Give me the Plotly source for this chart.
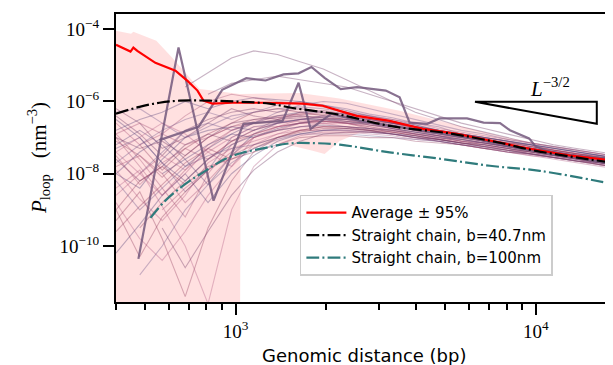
import numpy as np
import plotly.graph_objects as go

# ---------------- data ----------------
# Average loop probability (red)
avg_x = [400, 447, 457, 471, 541, 631, 692, 747, 782, 838, 977, 1259, 1672, 1950, 2222, 2531,
         3261, 4201, 5458, 7031, 9550, 13280, 18060]
avg_y = [3.7e-5, 2.4e-5, 3.1e-5, 2.5e-5, 1.17e-5, 7.1e-6, 3.7e-6, 2.0e-6, 1.05e-6, 8.7e-7, 9.2e-7,
         9.2e-7, 8.7e-7, 7.6e-7, 5.5e-7, 4.0e-7, 2.9e-7, 1.75e-7, 1.28e-7, 8.2e-8, 4.9e-8, 3.1e-8, 2.3e-8]

# 95% band
band_up_x = [400, 449, 457, 545, 617, 759, 838, 1031, 1634, 2222, 3521, 5167, 7585, 11110, 18060]
band_up_y = [9.1e-5, 7.5e-5, 8.5e-5, 4.8e-5, 1.6e-5, 2.2e-6, 2.0e-6, 1.6e-6, 1.7e-6, 1.2e-6,
             5.5e-7, 2.4e-7, 1.1e-7, 5.9e-8, 3.2e-8]
band_lo_x = [400, 1035, 1040, 1401, 1806, 1981, 2222, 2588, 3521, 5167, 7585, 11110, 18060]
band_lo_y = [1e-13, 1e-13, 4.3e-8, 7.2e-8, 4.3e-8, 3.5e-8, 8.1e-8, 1.35e-7, 1.3e-7, 8.1e-8,
             5.2e-8, 3.2e-8, 1.7e-8]

# Straight chain b=40.7nm (black)
sc40_x = [400, 479, 558, 651, 819, 1031, 1298, 1550, 2222, 3261, 5167, 7585, 10000, 18060]
sc40_y = [4.6e-7, 7.1e-7, 9.2e-7, 1.05e-6, 1.05e-6, 9.8e-7, 8.7e-7, 6.6e-7, 4.3e-7, 2.1e-7,
          1.3e-7, 7.2e-8, 4.3e-8, 2.0e-8]

# Straight chain b=100nm (teal)
sc100_x = [521, 584, 681, 794, 926, 1055, 1259, 1514, 1848, 2222, 3261, 4786, 7031, 10310, 18060]
sc100_y = [6.0e-10, 1.8e-9, 5.2e-9, 1.2e-8, 2.6e-8, 3.8e-8, 5.2e-8, 6.9e-8, 7.0e-8, 6.4e-8,
           3.9e-8, 2.6e-8, 1.66e-8, 1.2e-8, 5.2e-9]

# highlighted individual curves (thick)
thickA_x = [475, 646, 845, 1063, 1435, 1622, 1778, 2089, 2590, 3521, 4786, 6501, 8845, 12020, 18060]
thickA_y = [4.4e-11, 3.1e-5, 1.8e-9, 2.4e-7, 2.9e-7, 3.3e-6, 1.75e-7, 4.6e-7, 2.9e-7, 1.9e-7,
            1.3e-7, 8.7e-8, 4.9e-8, 3.2e-8, 1.9e-8]
thickB_x = [558, 754, 903, 1086, 1259, 1445, 1622, 1790, 1980, 2240, 2540, 2860, 3165, 3520,
            3800, 4350, 4780, 5900, 6700, 7600, 8200, 9500, 10000, 11000, 13000, 17000]
thickB_y = [8.5e-8, 2.0e-7, 2.1e-6, 4.4e-6, 3.8e-6, 5.6e-6, 6.0e-6, 9.0e-6, 4.5e-6, 2.2e-6,
            2.5e-6, 2.2e-6, 2.0e-6, 1.3e-6, 2.6e-7, 2.4e-7, 3.4e-7, 3.4e-7, 2.6e-7, 2.5e-7,
            1.6e-7, 9.5e-8, 5.6e-8, 4.2e-8, 3.2e-8, 2.7e-8]

# background individual curves (thin), log10 of P on a shared distance grid
grid_x = [400, 480, 570, 680, 810, 970, 1150, 1380, 1640, 1960, 2340, 2790, 3330, 3970, 4740,
          5650, 6740, 8040, 9600, 11450, 13660, 16300, 18000]
thin_log10P = [
    [-6.4, -6.9, -7.5, -6.8, -6.5, -6.3, -6.2, -6.3, -6.2, -6.3, -6.45, -6.5, -6.6, -6.75, -6.85, -6.9, -7.05, -7.15, -7.2, -7.35, -7.45, -7.5, -7.6],
    [-7.0, -7.8, -8.6, -7.9, -7.2, -6.8, -6.6, -6.5, -6.4, -6.45, -6.5, -6.65, -6.7, -6.8, -6.95, -7.0, -7.1, -7.2, -7.3, -7.4, -7.5, -7.55, -7.65],
    [-8.0, -7.4, -7.0, -7.6, -8.3, -7.5, -6.9, -6.6, -6.5, -6.5, -6.6, -6.6, -6.75, -6.85, -6.95, -7.1, -7.15, -7.25, -7.3, -7.45, -7.55, -7.65, -7.7],
    [None, -9.5, -8.8, -8.2, -7.6, -7.1, -6.9, -6.7, -6.6, -6.55, -6.6, -6.75, -6.8, -6.9, -7.0, -7.1, -7.2, -7.3, -7.4, -7.5, -7.6, -7.7, -7.75],
    [-6.3, -6.2, -6.6, -7.0, -6.7, -6.4, -6.3, -6.1, -6.0, -6.1, -6.2, -6.35, -6.45, -6.6, -6.7, -6.9, -7.0, -7.1, -7.2, -7.3, -7.4, -7.5, -7.55],
    [-8.8, -9.8, -10.4, -9.6, -8.6, -7.8, -7.2, -6.9, -6.7, -6.6, -6.7, -6.75, -6.85, -6.95, -7.05, -7.15, -7.25, -7.3, -7.45, -7.55, -7.6, -7.75, -7.8],
    [-7.6, -8.2, -7.8, -7.2, -6.9, -7.1, -6.8, -6.5, -6.3, -6.25, -6.35, -6.45, -6.6, -6.7, -6.85, -6.95, -7.05, -7.2, -7.3, -7.4, -7.5, -7.6, -7.65],
    [None, None, -9.0, -8.4, -7.9, -7.4, -7.0, -6.8, -6.7, -6.7, -6.75, -6.8, -6.9, -7.0, -7.05, -7.15, -7.25, -7.35, -7.45, -7.5, -7.6, -7.7, -7.75],
    [-6.8, -6.5, -6.3, -6.0, -6.2, -6.0, -5.9, -5.95, -6.0, -6.1, -6.25, -6.4, -6.5, -6.65, -6.8, -6.9, -7.0, -7.1, -7.2, -7.3, -7.4, -7.5, -7.55],
    [-9.3, -8.5, -9.8, -11.4, -9.5, -8.2, -7.4, -7.0, -6.8, -6.7, -6.7, -6.75, -6.85, -6.95, -7.05, -7.15, -7.25, -7.35, -7.4, -7.5, -7.6, -7.7, -7.75],
    [-7.3, -7.0, -7.7, -8.5, -7.9, -7.0, -6.7, -6.6, -6.5, -6.45, -6.5, -6.6, -6.75, -6.85, -6.95, -7.05, -7.15, -7.25, -7.35, -7.45, -7.55, -7.6, -7.65],
    [-7.9, -8.7, -9.3, -8.6, -7.7, -7.3, -7.1, -6.9, -6.8, -6.8, -6.8, -6.85, -6.9, -7.0, -7.1, -7.2, -7.3, -7.4, -7.5, -7.55, -7.65, -7.75, -7.8],
    [None, None, None, -5.6, -5.2, -4.8, -4.6, -4.7, -4.9, -5.1, -5.4, -5.7, -6.0, -6.3, -6.5, -6.7, -6.85, -7.0, -7.15, -7.25, -7.35, -7.45, -7.5],
    [-6.6, -7.2, -6.9, -6.4, -6.0, -5.8, -5.9, -6.0, -6.05, -6.15, -6.3, -6.45, -6.55, -6.7, -6.8, -6.95, -7.05, -7.15, -7.25, -7.35, -7.45, -7.55, -7.6],
    [-10.2, -9.4, -8.6, -8.0, -8.8, -8.0, -7.5, -7.1, -6.9, -6.8, -6.75, -6.8, -6.9, -6.95, -7.05, -7.15, -7.2, -7.3, -7.4, -7.5, -7.6, -7.7, -7.75],
    [-7.1, -7.5, -8.1, -7.5, -7.0, -6.7, -6.5, -6.4, -6.35, -6.35, -6.4, -6.5, -6.6, -6.7, -6.8, -6.95, -7.05, -7.15, -7.25, -7.35, -7.45, -7.55, -7.6],
    [None, -8.0, -7.4, -6.8, -6.6, -6.8, -6.6, -6.3, -6.1, -6.0, -6.05, -6.2, -6.35, -6.5, -6.65, -6.8, -6.9, -7.05, -7.15, -7.25, -7.35, -7.45, -7.5],
    [-8.4, -7.9, -8.9, -10.0, -11.6, -9.0, -7.8, -7.2, -6.95, -6.85, -6.85, -6.9, -6.95, -7.05, -7.1, -7.2, -7.3, -7.4, -7.5, -7.6, -7.7, -7.8, -7.85],
    [-6.2, -6.6, -7.3, -7.0, -6.6, -6.2, -6.4, -6.5, -6.45, -6.5, -6.55, -6.6, -6.65, -6.75, -6.85, -6.95, -7.1, -7.2, -7.3, -7.4, -7.5, -7.6, -7.65],
    [-7.5, -8.3, -7.7, -7.3, -7.6, -7.1, -6.8, -6.6, -6.55, -6.55, -6.6, -6.65, -6.75, -6.9, -7.0, -7.1, -7.2, -7.3, -7.4, -7.45, -7.55, -7.65, -7.7],
    [None, None, -8.0, -7.6, -7.2, -6.9, -6.6, -6.4, -6.3, -6.3, -6.35, -6.45, -6.55, -6.7, None, None, None, None, None, None, None, None, None],
    [-9.0, -10.3, -9.2, -8.5, -7.9, -7.5, -7.2, -7.0, -6.8, -6.7, -6.7, -6.8, -6.9, -7.0, -7.1, -7.2, -7.3, -7.35, -7.45, -7.55, -7.65, -7.7, -7.75],
    [-7.7, -7.2, -6.8, -6.5, -6.3, -6.5, -6.3, -6.2, -6.15, -6.2, -6.3, -6.4, -6.55, -6.65, -6.8, -6.9, -7.0, -7.1, -7.2, -7.3, -7.4, -7.5, -7.55],
    [-8.6, -8.0, -7.5, -7.9, -7.4, -7.0, -6.7, -6.7, -6.6, -6.6, -6.6, -6.7, -6.8, -6.9, -7.0, -7.1, -7.15, -7.25, -7.35, -7.45, -7.55, -7.65, -7.7],
    [None, None, None, None, -5.8, -5.5, -5.4, -5.3, -5.4, -5.5, -5.6, -5.8, -6.0, -6.2, -6.4, -6.6, -6.75, -6.9, -7.05, -7.2, -7.3, -7.4, -7.45],
    [-6.9, -7.6, -8.4, -9.2, -8.0, -7.2, -6.9, -6.7, -6.6, -6.55, -6.55, -6.6, -6.7, -6.8, -6.9, -7.0, -7.1, -7.2, -7.3, -7.4, -7.5, -7.6, -7.65],
    [-7.2, -6.8, -7.2, -7.8, -7.3, -6.9, -7.0, -6.75, -6.6, -6.5, -6.5, -6.55, -6.65, -6.8, -6.9, -7.0, -7.1, -7.2, -7.3, -7.4, -7.5, -7.6, -7.65],
    [-9.6, -8.9, -8.3, -7.7, -7.3, -7.6, -7.3, -7.0, -6.85, -6.75, -6.75, -6.8, -6.85, -6.95, -7.05, -7.15, -7.25, -7.35, -7.45, -7.55, -7.65, -7.75, -7.8],
    [None, -10.8, -10.0, -9.0, -8.3, -7.7, -7.3, -7.05, -6.9, -6.8, -6.8, -6.85, -6.9, -7.0, -7.1, -7.2, -7.3, -7.4, -7.45, -7.55, -7.65, -7.7, -7.75],
    [-7.4, -7.0, -6.6, -6.9, -7.4, -7.8, -7.0, -6.7, -6.5, -6.4, -6.4, -6.5, -6.6, -6.75, -6.85, -6.95, -7.05, -7.15, -7.25, -7.35, -7.45, -7.55, -7.6],
    [-7.0, -7.3, -7.1, -7.5, -7.0, -6.6, -6.5, -6.45, -6.4, -6.45, -6.55, -6.65, -6.75, -6.85, -6.95, -7.05, -7.15, -7.25, -7.3, -7.4, -7.5, -7.6, -7.62],
    [-7.8, -7.5, -8.0, -8.8, -8.2, -7.5, -7.0, -6.8, -6.6, -6.5, -6.45, -6.55, -6.65, -6.8, -6.9, -7.0, -7.1, -7.2, -7.3, -7.4, -7.5, -7.6, -7.65],
    [-6.5, -7.0, -7.7, -8.2, -7.6, -7.2, -6.95, -6.8, -6.7, -6.65, -6.7, -6.75, -6.8, -6.9, -7.0, -7.05, -7.15, -7.25, -7.35, -7.45, -7.55, -7.65, -7.7],
    [None, -7.2, -7.9, -7.3, -6.9, -6.6, -6.3, -6.2, -6.3, -6.4, -6.5, -6.55, -6.6, -6.7, -6.8, -6.9, -7.0, -7.1, -7.25, -7.35, -7.45, -7.55, -7.6],
    [-8.2, -9.0, -8.4, -7.8, -7.5, -7.3, -7.2, -7.0, -6.9, -6.9, -6.9, -6.95, -7.0, -7.05, -7.1, -7.2, -7.25, -7.35, -7.45, -7.55, -7.65, -7.75, -7.8],
    [-7.4, -8.0, -8.6, -8.0, -7.3, -6.8, -6.55, -6.45, -6.35, -6.3, -6.35, -6.4, -6.5, -6.6, -6.75, -6.85, -6.95, -7.05, -7.15, -7.25, -7.35, -7.45, -7.5],
    [None, None, -9.5, -10.6, -9.6, -8.6, -7.9, -7.4, -7.1, -6.9, -6.85, -6.85, -6.9, -7.0, -7.05, -7.15, -7.2, -7.3, -7.4, -7.5, -7.6, -7.7, -7.75],
    [-6.9, -6.6, -6.9, -7.2, -7.0, -6.7, -6.6, -6.55, -6.5, -6.55, -6.6, -6.7, -6.8, -6.9, -6.95, -7.05, -7.15, -7.25, -7.35, -7.45, -7.5, -7.6, -7.65],
    [-8.0, -8.4, -7.6, -7.0, -6.8, -6.7, -6.8, -6.6, -6.5, -6.4, -6.45, -6.5, -6.6, -6.7, -6.8, -6.9, -7.0, -7.1, -7.2, -7.3, -7.4, -7.5, -7.55],
    [-9.0, -8.2, -7.8, -8.3, -7.8, -7.6, -7.4, -7.2, -7.0, -6.95, -6.95, -7.0, -7.0, -7.1, -7.15, -7.2, -7.3, -7.4, -7.45, -7.55, -7.65, -7.75, -7.8],
]
thin_colors = ["rgba(110,55,100,0.38)", "rgba(160,75,115,0.36)", "rgba(85,65,120,0.38)",
               "rgba(140,55,90,0.36)", "rgba(105,80,135,0.36)", "rgba(175,90,130,0.36)"]

# slope guide L^-3/2
tri_x = [6270, 15960, 15960, 6270]
tri_y = [9.8e-7, 9.8e-7, 2.4e-7, 9.8e-7]
tri_label_x = 11140
tri_label_y = 2.5e-6

y_tickvals = [1e-10, 1e-8, 1e-6, 1e-4]
y_ticktext = ["10<sup>−10</sup>", "10<sup>−8</sup>", "10<sup>−6</sup>", "10<sup>−4</sup>"]
x_tickvals = [1e3, 1e4]
x_ticktext = ["10<sup>3</sup>", "10<sup>4</sup>"]
x_minor = [400, 500, 600, 700, 800, 900, 2000, 3000, 4000, 5000, 6000, 7000, 8000, 9000]

# ---------------- figure ----------------
fig = go.Figure()

fig.add_trace(go.Scatter(x=band_up_x + band_lo_x[::-1], y=band_up_y + band_lo_y[::-1],
                         fill="toself", fillcolor="rgba(255,0,0,0.12)", mode="lines",
                         line=dict(width=0), showlegend=False, hoverinfo="skip"))

for i, row in enumerate(thin_log10P):
    ys = [None if v is None else 10 ** v for v in row]
    fig.add_trace(go.Scatter(x=grid_x, y=ys, mode="lines",
                             line=dict(color=thin_colors[i % len(thin_colors)], width=1.1),
                             showlegend=False, hoverinfo="skip"))

for tx, ty in [(thickA_x, thickA_y), (thickB_x, thickB_y)]:
    fig.add_trace(go.Scatter(x=tx, y=ty, mode="lines",
                             line=dict(color="rgba(115,88,125,0.85)", width=2.2),
                             showlegend=False))

fig.add_trace(go.Scatter(x=avg_x, y=avg_y, mode="lines", name="Average ± 95%",
                         line=dict(color="red", width=2.2)))
fig.add_trace(go.Scatter(x=sc40_x, y=sc40_y, mode="lines", name="Straight chain, b=40.7nm",
                         line=dict(color="black", width=2.2, shape="spline",
                                   dash="12.8px,3.2px,2px,3.2px")))
fig.add_trace(go.Scatter(x=sc100_x, y=sc100_y, mode="lines", name="Straight chain, b=100nm",
                         line=dict(color="#2f7b7c", width=2.2, shape="spline",
                                   dash="12.8px,3.2px,2px,3.2px")))

fig.add_trace(go.Scatter(x=tri_x, y=tri_y, mode="lines", line=dict(color="black", width=2),
                         showlegend=False))

fig.add_annotation(x=np.log10(tri_label_x), y=np.log10(tri_label_y), xref="x", yref="y",
                   text="<i>L</i><sup>−3/2</sup>", showarrow=False,
                   font=dict(family="Liberation Serif", size=21, color="black"))

fig.add_annotation(x=-0.19, y=0.5, xref="paper", yref="paper", textangle=-90,
                   text="<i>P</i><sub>loop</sub>   (nm<sup>−3</sup>)", showarrow=False,
                   font=dict(family="Liberation Serif", size=21, color="black"))
fig.add_annotation(x=0.5, y=-0.185, xref="paper", yref="paper", yanchor="middle",
                   text="Genomic distance (bp)", showarrow=False,
                   font=dict(family="DejaVu Sans", size=18, color="black"))

fig.update_xaxes(type="log", range=[np.log10(400), 4.257], showgrid=False, zeroline=False,
                 showline=True, linecolor="black", linewidth=2, mirror=True,
                 ticks="outside", ticklen=11, tickwidth=2, tickcolor="black",
                 tickvals=x_tickvals, ticktext=x_ticktext,
                 tickfont=dict(family="Liberation Serif", size=19, color="black"),
                 minor=dict(tickvals=x_minor, ticks="outside", ticklen=6, tickwidth=1.5,
                            tickcolor="black"))
fig.update_yaxes(type="log", range=[-11.55, -3.58], showgrid=False, zeroline=False,
                 showline=True, linecolor="black", linewidth=2, mirror=False,
                 ticks="outside", ticklen=11, tickwidth=2, tickcolor="black",
                 tickvals=y_tickvals, ticktext=y_ticktext,
                 tickfont=dict(family="Liberation Serif", size=19, color="black"))

# page body adds an 8px margin; size the figure so the plot sits where the reference has it
fig.update_layout(width=605, height=357, margin=dict(l=108, r=0, t=6, b=63),
                  plot_bgcolor="white", paper_bgcolor="white",
                  legend=dict(x=0.37, y=0.372, xanchor="left", yanchor="top",
                              bgcolor="rgba(255,255,255,0.85)", bordercolor="#cccccc",
                              borderwidth=1.5, itemwidth=40,
                              font=dict(family="DejaVu Sans", size=15, color="black"),
                              tracegroupgap=0))

fig.write_html("out.html")
